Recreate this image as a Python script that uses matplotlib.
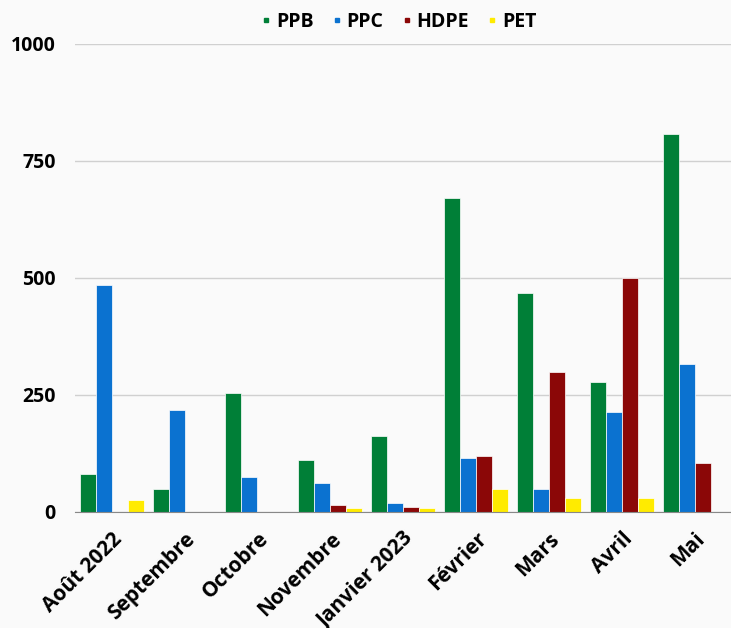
import numpy as np
import matplotlib.pyplot as plt
from matplotlib.lines import Line2D

months = ["Août 2022", "Septembre", "Octobre", "Novembre", "Janvier 2023",
          "Février", "Mars", "Avril", "Mai"]
ppb = [81, 49, 254, 111, 162, 671, 468, 278, 808]
ppc = [485, 218, 75, 62, 19, 115, 49, 214, 316]
hdpe = [0, 0, 0, 15, 11, 120, 299, 500, 105]
pet = [25, 0, 0, 9, 9, 49, 30, 30, 0]

series = [("PPB", ppb, "#007f37"), ("PPC", ppc, "#0b72d0"),
          ("HDPE", hdpe, "#8b0707"), ("PET", pet, "#ffeb00")]

plt.rcParams['font.family'] = ['Open Sans', 'DejaVu Sans']
bg = "#fafafa"
fig = plt.figure(figsize=(7.31, 6.28), dpi=100, facecolor=bg)
ax = fig.add_axes([0.103, 0.185, 0.897, 0.745], facecolor=bg)

x = np.arange(len(months))
w = 0.22
for i, (name, vals, col) in enumerate(series):
    ax.bar(x + (i - 1.5) * w, vals, w, color=col, edgecolor="white", linewidth=0.5, zorder=3)

ax.set_xlim(-0.5, len(months) - 0.5)
ax.set_ylim(0, 1000)
ax.set_yticks([0, 250, 500, 750, 1000])
ax.set_yticklabels(["0", "250", "500", "750", "1000"], fontsize=14, fontweight="bold")
ax.set_xticks(x)
ax.set_xticklabels(months, rotation=45, ha="right", rotation_mode="anchor",
                   fontsize=15, fontweight="bold")
ax.tick_params(length=0, pad=14)
ax.tick_params(axis="x", pad=12)
ax.grid(axis="y", color="#d0d0d0", linewidth=1, zorder=0)
for s in ["top", "right", "left"]:
    ax.spines[s].set_visible(False)
ax.spines["bottom"].set_color("#888888")
ax.spines["bottom"].set_zorder(4)

handles = [Line2D([], [], marker="s", linestyle="", color=c, markersize=3.5) for _, _, c in series]
fig.legend(handles, [n for n, _, _ in series], loc="center", bbox_to_anchor=(0.545, 0.965),
           ncol=4, frameon=False, handlelength=0.6, handletextpad=0.2, columnspacing=0.9,
           prop={"weight": "bold", "size": 14})

fig.savefig("out.png", dpi=100, facecolor=bg)
